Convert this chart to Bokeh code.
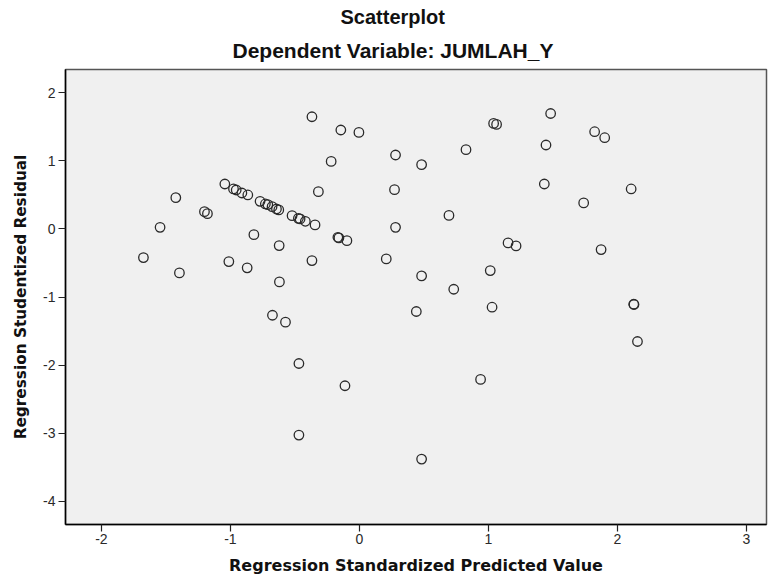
from bokeh.plotting import figure
from bokeh.models import Range1d, FixedTicker, Title, ColumnDataSource
from bokeh.embed import file_html
from bokeh.resources import INLINE

# Regression Standardized Predicted Value
pred = [-0.368, -0.144, -0.004, 0.280, -0.219,
        -1.043, -0.976, -0.955, -0.911, -0.865, -0.770, -0.729, -0.710,
        -0.677, -0.643, -0.625, -0.522, -0.473, -0.460, -0.419, -0.344,
        -0.318, -1.423, -1.201, -1.178, -1.545,
        -0.167, -0.159, -0.097, -0.818, -0.622, -1.674, -1.012, -0.368,
        -0.870, -1.395, -0.620, 0.208, 0.272, 0.280,
        1.040, 1.063, 1.482, 1.823, 1.901, 1.446, 0.826, 0.482, 1.433,
        2.106, 1.738, 0.694, 1.152, 1.214, 1.873, 1.014, 0.482, 0.731,
        -0.674, -0.573, -0.469, -0.112, -0.469,
        0.441, 1.028, 2.126, 2.128, 2.155, 0.939, 0.482]
# Regression Studentized Residual
resid = [1.648, 1.453, 1.418, 1.086, 0.992,
         0.660, 0.587, 0.572, 0.528, 0.499, 0.405, 0.367, 0.357,
         0.327, 0.293, 0.279, 0.195, 0.156, 0.147, 0.112, 0.059,
         0.547, 0.459, 0.254, 0.224, 0.023,
         -0.123, -0.132, -0.172, -0.084, -0.245, -0.421, -0.480, -0.465,
         -0.572, -0.646, -0.778, -0.440, 0.577, 0.023,
         1.550, 1.535, 1.696, 1.428, 1.340, 1.233, 1.164, 0.944, 0.660,
         0.587, 0.382, 0.199, -0.205, -0.249, -0.304, -0.612, -0.690, -0.886,
         -1.268, -1.370, -1.977, -2.304, -3.029,
         -1.213, -1.150, -1.106, -1.110, -1.654, -2.211, -3.381]

x_ticks = [-2, -1, 0, 1, 2, 3]
x_tick_labels = ["-2", "-1", "0", "1", "2", "3"]
y_ticks = [-4, -3, -2, -1, 0, 1, 2]
y_tick_labels = ["-4", "-3", "-2", "-1", "0", "1", "2"]

title_text = "Scatterplot"
subtitle_text = "Dependent Variable: JUMLAH_Y"
x_label = "Regression Standardized Predicted Value"
y_label = "Regression Studentized Residual"

src = ColumnDataSource(dict(x=pred, y=resid))

p = figure(width=772, height=579, output_backend="svg", toolbar_location=None,
           x_range=Range1d(-2.278, 3.155), y_range=Range1d(-4.342, 2.342),
           min_border_left=65, min_border_right=6, min_border_top=69,
           min_border_bottom=55)

p.background_fill_color = "#f0f0f0"
p.border_fill_color = "white"
p.outline_line_color = "#555555"
p.outline_line_width = 1.5
p.xgrid.visible = False
p.ygrid.visible = False

p.add_layout(Title(text=subtitle_text, align="left", text_font="Liberation Sans",
                   text_font_size="21px", text_font_style="bold", text_color="#111111",
                   offset=167, standoff=16), "above")
p.add_layout(Title(text=title_text, align="left", text_font="Liberation Sans",
                   text_font_size="20px", text_font_style="bold", text_color="#111111",
                   offset=275, standoff=2), "above")

for ax in (p.xaxis[0], p.yaxis[0]):
    ax.axis_line_color = "black"
    ax.axis_line_width = 1.5
    ax.major_tick_line_color = "#222222"
    ax.major_tick_line_width = 1.2
    ax.major_tick_in = 0
    ax.major_tick_out = 7
    ax.minor_tick_line_color = None
    ax.major_label_text_font = "Liberation Sans"
    ax.major_label_text_font_size = "14px"
    ax.major_label_text_color = "#2a2a2a"
    ax.axis_label_text_font = "DejaVu Sans"
    ax.axis_label_text_font_style = "bold"
    ax.axis_label_text_color = "#111111"

p.xaxis.axis_label_text_font_size = "16px"
p.yaxis.axis_label_text_font_size = "15.3px"
p.xaxis.ticker = FixedTicker(ticks=x_ticks)
p.yaxis.ticker = FixedTicker(ticks=y_ticks)
p.xaxis.major_label_overrides = dict(zip(x_ticks, x_tick_labels))
p.yaxis.major_label_overrides = dict(zip(y_ticks, y_tick_labels))
p.xaxis.axis_label = x_label
p.yaxis.axis_label = y_label
p.xaxis.major_label_standoff = 2
p.yaxis.major_label_standoff = 3
p.xaxis.axis_label_standoff = 9
p.yaxis.axis_label_standoff = 10

p.scatter("x", "y", source=src, marker="circle", size=9.5, fill_color=None,
          line_color="#2a2a2a", line_width=1.3)

open("out.html", "w").write(file_html(p, INLINE))
